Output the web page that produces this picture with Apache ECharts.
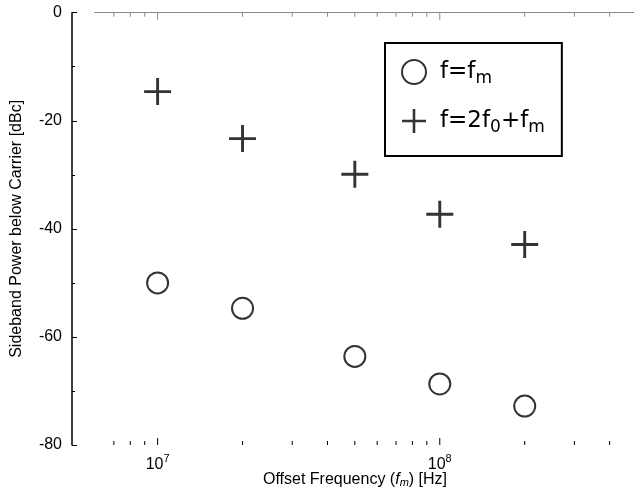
<!DOCTYPE html>
<html>
<head>
<meta charset="utf-8">
<script src="https://cdn.jsdelivr.net/npm/echarts@6/dist/echarts.min.js"></script>
<style>
html,body{margin:0;padding:0;background:#fff;}
#chart{width:634px;height:490px;}
</style>
</head>
<body>
<div id="chart"></div>
<script>
// ---- data ----
const freqs = [1e7, 2e7, 5e7, 1e8, 2e8];              // offset frequency fm [Hz]
const circleValues = [-50, -54.7, -63.6, -68.7, -72.8];  // f = fm
const plusValues = [-14.6, -23.3, -29.9, -37.3, -42.9];  // f = 2f0 + fm
const seriesNames = ['f=fm', 'f=2f0+fm'];
const xTickValues = [7e6, 8e6, 9e6, 1e7, 2e7, 3e7, 4e7, 5e7, 6e7, 7e7, 8e7, 9e7, 1e8, 2e8, 3e8, 4e8];
const xMin = 6e6, xMax = 5e8;
const yMin = -80, yMax = 0, yInterval = 20;

const FONT = 'Liberation Sans';
const LFONT = 'DejaVu Sans';
const legendRich = {
  'f=fm': 'f=f{s|m}',
  'f=2f0+fm': 'f=2f{s|0}+f{s|m}'
};
const plusPath = 'path://M0,11.6h26v2.8h-26z M11.6,0h2.8v26h-2.8z';

const chart = echarts.init(document.getElementById('chart'));
chart.setOption({
  animation: false,
  backgroundColor: '#fff',
  textStyle: { fontFamily: FONT, color: '#000' },
  grid: { left: 95, top: 12.7, width: 542, height: 432.3, containLabel: false, outerBoundsMode: 'none' },
  xAxis: [{
    type: 'log', logBase: 10, min: xMin, max: xMax,
    axisLine: { lineStyle: { color: '#333', width: 1 } },
    axisTick: { show: false },
    minorTick: { show: false },
    splitLine: { show: false },
    axisLabel: {
      margin: 6,
      showMinLabel: true, showMaxLabel: true,
      formatter: function (v) {
        const e = Math.log10(v);
        if (Math.abs(e - Math.round(e)) > 1e-6) return '';
        return '{b|10}{s|' + Math.round(e) + '}';
      },
      rich: {
        b: { fontSize: 16, fontFamily: FONT, color: '#000', padding: [6, 0, 0, 0] },
        s: { fontSize: 11, fontFamily: FONT, color: '#000', padding: [0, 0, 6, 0] }
      }
    },
    name: '{n|Offset Frequency (}{i|f}{is|m}{n|) [Hz]}',
    nameLocation: 'middle',
    nameGap: 26,
    nameMoveOverlap: false,
    nameTextStyle: {
      padding: [0, 22, 0, 0],
      rich: {
        n: { fontSize: 16, fontFamily: FONT, color: '#000' },
        i: { fontSize: 16, fontFamily: FONT, color: '#000', fontStyle: 'italic' },
        is: { fontSize: 11, fontFamily: FONT, color: '#000', fontStyle: 'italic', padding: [6, 0, 0, 0] }
      }
    }
  }, {
    type: 'log', logBase: 10, min: xMin, max: xMax, position: 'top',
    axisLine: { lineStyle: { color: '#888', width: 1 } },
    axisTick: { show: false }, axisLabel: { show: false }, splitLine: { show: false }
  }],
  yAxis: {
    type: 'value', min: yMin, max: yMax, interval: yInterval,
    offset: 23,
    axisLine: { show: true, lineStyle: { color: '#000', width: 1.5 } },
    axisTick: { show: true, inside: true, length: 5, lineStyle: { color: '#000' } },
    minorTick: { show: true, splitNumber: 2, length: 3, lineStyle: { color: '#000' } },
    splitLine: { show: false },
    axisLabel: { fontSize: 16, fontFamily: FONT, color: '#000', margin: 10 },
    name: 'Sideband Power below Carrier [dBc]',
    nameLocation: 'middle',
    nameGap: 47,
    nameMoveOverlap: false,
    nameTextStyle: { fontSize: 16, fontFamily: FONT, color: '#000' }
  },
  legend: {
    orient: 'vertical',
    left: 385, top: 43,
    borderColor: '#000', borderWidth: 2,
    padding: [16, 17, 20, 16],
    itemGap: 22, itemWidth: 26, itemHeight: 24,
    data: seriesNames,
    formatter: function (n) { return legendRich[n]; },
    textStyle: {
      fontSize: 23, fontFamily: LFONT, color: '#000', padding: [0, 0, 0, 8],
      rich: { s: { fontSize: 17, fontFamily: LFONT, color: '#000', padding: [13, 0, 0, 0] } }
    }
  },
  series: [{
    name: seriesNames[0], type: 'scatter',
    symbol: 'emptyCircle', symbolSize: 21,
    itemStyle: { color: '#000', borderColor: '#000', borderWidth: 2.2 },
    data: freqs.map((f, i) => [f, circleValues[i]])
  }, {
    name: seriesNames[1], type: 'scatter',
    symbol: plusPath, symbolSize: 27,
    itemStyle: { color: '#000', borderWidth: 0 },
    data: freqs.map((f, i) => [f, plusValues[i]])
  }, {
    name: 'ticks', type: 'custom', silent: true, clip: false,
    data: xTickValues.map(v => [v, yMin]),
    renderItem: function (params, api) {
      const v = api.value(0);
      const e = Math.log10(v);
      const major = Math.abs(e - Math.round(e)) < 1e-6;
      const b = api.coord([v, yMin]);
      const t = api.coord([v, yMax]);
      const len = major ? 7 : 4;
      return {
        type: 'group', children: [
          { type: 'line', shape: { x1: b[0], y1: b[1], x2: b[0], y2: b[1] - len }, style: { stroke: '#000', lineWidth: 1 } },
          { type: 'line', shape: { x1: t[0], y1: t[1], x2: t[0], y2: t[1] + len }, style: { stroke: '#888', lineWidth: 1 } }
        ]
      };
    }
  }]
});
</script>
</body>
</html>
